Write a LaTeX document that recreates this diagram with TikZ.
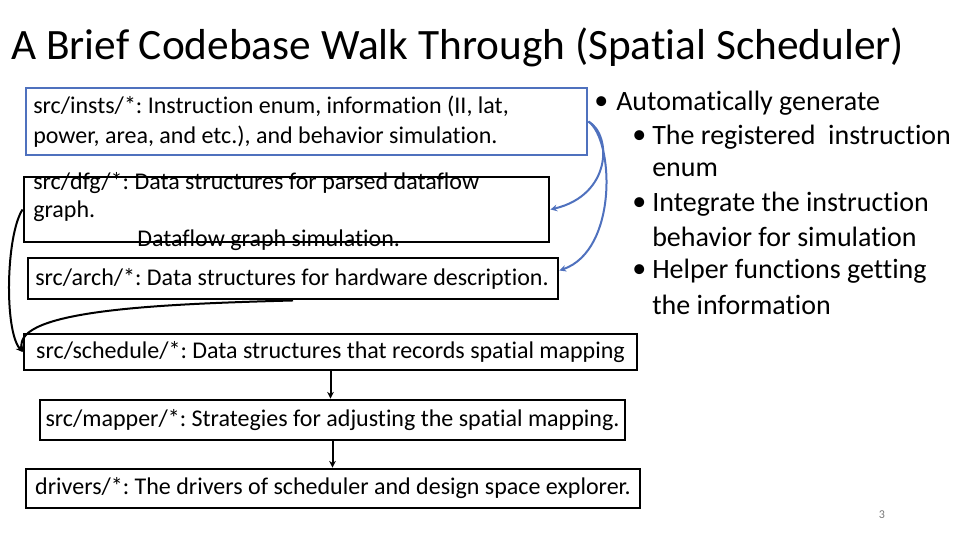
\documentclass[tikz,border=0pt]{standalone}
\usepackage{fontspec}
\setmainfont{Carlito}[Ligatures=NoCommon]
\usetikzlibrary{arrows.meta,positioning,fit}
\definecolor{slideblue}{RGB}{79,113,190}
\definecolor{pagegray}{RGB}{120,120,120}
\frenchspacing
\tikzset{
    codebox/.style={draw=black, line width=2.2pt, inner sep=0pt},
    codetext/.style={anchor=west, inner sep=0pt, font=\fontsize{18}{23}\selectfont},
    pointtext/.style={anchor=west, inner sep=0pt, font=\fontsize{21}{25}\selectfont},
    bluelink/.style={draw=slideblue, line width=1.5pt, -{Stealth[length=5pt,width=5pt]}},
    blacklink/.style={draw=black, line width=1.5pt, -{Stealth[length=5pt,width=5pt]}}
}

\begin{document}
\begin{tikzpicture}[x=0.75pt, y=-0.75pt]
    \useasboundingbox (0,0) rectangle (960,540);

    \node[anchor=west, inner sep=0pt, font=\fontsize{32.5}{38}\selectfont] (title) at (11,47)
        {A Brief Codebase Walk Through (Spatial Scheduler)};

    % boxes on the left
    \node[codebox, draw=slideblue, fit={(26,88) (587,155)}] (insts) {};
    \node[codebox, fit={(24,177) (549,242)}] (dfg) {};
    \node[codebox, fit={(28,258) (558,299)}] (arch) {};
    \node[codebox, fit={(24,334) (637,370)}] (sched) {};
    \node[codebox, fit={(40,400) (625,440)}] (mapper) {};
    \node[codebox, fit={(26,469) (640,508)}] (drivers) {};

    % box texts
    \node[codetext] (instsA) at (33,106) {src/insts/*: Instruction enum, information (II, lat,};
    \node[codetext] (instsB) at (33,137) {power, area, and etc.), and behavior simulation.};
    \node[codetext] (dfgA) at (33,183) {src/dfg/*: Data structures for parsed dataflow};
    \node[codetext] (dfgB) at (33,211) {graph.};
    \node[codetext] (dfgC) at (137,240) {Dataflow graph simulation.};
    \node[codetext] (archA) at (35,279) {src/arch/*: Data structures for hardware description.};
    \node[codetext, anchor=center] (schedA) at (sched.center) {src/schedule/*: Data structures that records spatial mapping};
    \node[codetext, anchor=center] (mapperA) at (mapper.center) {src/mapper/*: Strategies for adjusting the spatial mapping.};
    \node[codetext, anchor=center] (driversA) at (drivers.center) {drivers/*: The drivers of scheduler and design space explorer.};

    % links
    \draw[bluelink] (insts.east) .. controls (612,135) and (612,195) .. (dfg.east);
    \draw[bluelink] (insts.east) .. controls (614,140) and (618,250) .. ([yshift=6pt]arch.east);
    \draw[blacklink] (dfg.west) .. controls (6,235) and (4,330) .. (sched.west);
    \draw[blacklink] (arch.south) .. controls (160,304) and (14,310) .. (sched.west);
    \draw[blacklink] (sched.south) -- (sched.south |- mapper.north);
    \draw[blacklink] (mapper.south) -- (mapper.south |- drivers.north);

    % bullet points on the right
    \node[pointtext] (dotA) at (594,103) {\textbullet};
    \node[pointtext] (autoA) at (616,103) {Automatically generate};
    \foreach \y in {137,204,271} {
        \node[pointtext] (dot\y) at (632,\y) {\textbullet};
    }
    \foreach \y/\t [count=\i] in {137/The registered~ instruction, 170/enum,
        204/Integrate the instruction, 237/behavior for simulation,
        271/Helper functions getting, 305/the information} {
        \node[pointtext] (sub\i) at (652,\y) {\t};
    }

    \node[inner sep=0pt, text=pagegray, font=\fontsize{9}{11}\selectfont] (page) at (882,515) {3};
\end{tikzpicture}
\end{document}
